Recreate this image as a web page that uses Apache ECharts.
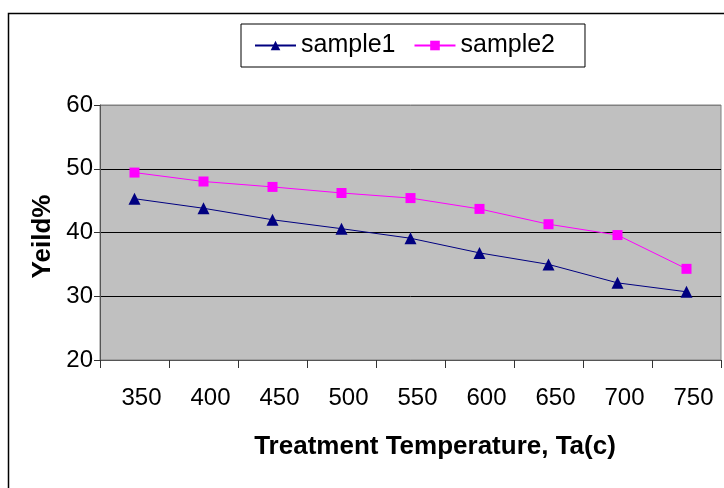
<!DOCTYPE html>
<html>
<head>
<meta charset="utf-8">
<script src="https://cdn.jsdelivr.net/npm/echarts@6/dist/echarts.min.js"></script>
<style>
html,body{margin:0;padding:0;background:#fff;}
#chart{width:724px;height:488px;}
</style>
</head>
<body>
<div id="chart"></div>
<script>
const categories = ['350','400','450','500','550','600','650','700','750'];
const sample1 = [45.3, 43.8, 42.0, 40.6, 39.1, 36.8, 35.0, 32.1, 30.7];
const sample2 = [49.4, 48.0, 47.15, 46.2, 45.4, 43.7, 41.3, 39.6, 34.3];
const seriesNames = ['sample1', 'sample2'];
const xName = 'Treatment Temperature, Ta(c)';
const yName = 'Yeild%';

const FONT = '"Liberation Sans", Arial, sans-serif';
const chart = echarts.init(document.getElementById('chart'), null, {renderer: 'canvas'});
chart.setOption({
  animation: false,
  backgroundColor: '#ffffff',
  graphic: [{
    type: 'rect',
    shape: {x: 8.5, y: 13.5, width: 800, height: 600},
    style: {fill: 'none', stroke: '#000', lineWidth: 1.5},
    z: -10
  }],
  legend: {
    left: 241, top: 24,
    padding: [9, 30, 9, 13],
    borderColor: '#000', borderWidth: 1,
    itemWidth: 41, itemHeight: 12, itemGap: 18,
    textStyle: {fontFamily: FONT, fontSize: 25, color: '#000'},
    data: seriesNames
  },
  grid: {
    left: 100, top: 105, right: 3, bottom: 128,
    show: true, backgroundColor: '#c0c0c0', borderColor: '#808080', borderWidth: 1
  },
  xAxis: {
    type: 'category',
    data: categories,
    boundaryGap: true,
    axisLine: {show: true, lineStyle: {color: '#555', width: 1}},
    axisTick: {show: true, length: 8, inside: false, lineStyle: {color: '#333'}},
    axisLabel: {fontFamily: FONT, fontSize: 24, color: '#000', margin: 26, padding: [0, 0, 0, 14]},
    splitLine: {show: false},
    name: xName,
    nameLocation: 'middle',
    nameGap: 74,
    nameTextStyle: {fontFamily: FONT, fontSize: 26, fontWeight: 'bold', color: '#000', padding: [0, 0, 0, 49]}
  },
  yAxis: {
    type: 'value',
    min: 20, max: 60, interval: 10,
    axisLine: {show: true, lineStyle: {color: '#555', width: 1}},
    axisTick: {show: true, length: 6, lineStyle: {color: '#333'}},
    axisLabel: {fontFamily: FONT, fontSize: 24, color: '#000', margin: 7},
    splitLine: {show: true, lineStyle: {color: ['#555', '#000', '#000', '#000', '#808080'], width: 1}},
    name: yName,
    nameLocation: 'middle',
    nameGap: 40,
    nameRotate: 90,
    nameTextStyle: {fontFamily: FONT, fontSize: 26, fontWeight: 'bold', color: '#000', padding: [0, 8, 0, 0]}
  },
  series: [{
    name: seriesNames[0],
    type: 'line',
    data: sample1,
    symbol: 'triangle',
    symbolSize: 12,
    itemStyle: {color: '#000080'},
    lineStyle: {color: '#000080', width: 1}
  }, {
    name: seriesNames[1],
    type: 'line',
    data: sample2,
    symbol: 'rect',
    symbolSize: 10,
    itemStyle: {color: '#ff00ff'},
    lineStyle: {color: '#ff00ff', width: 1}
  }]
});
</script>
</body>
</html>
